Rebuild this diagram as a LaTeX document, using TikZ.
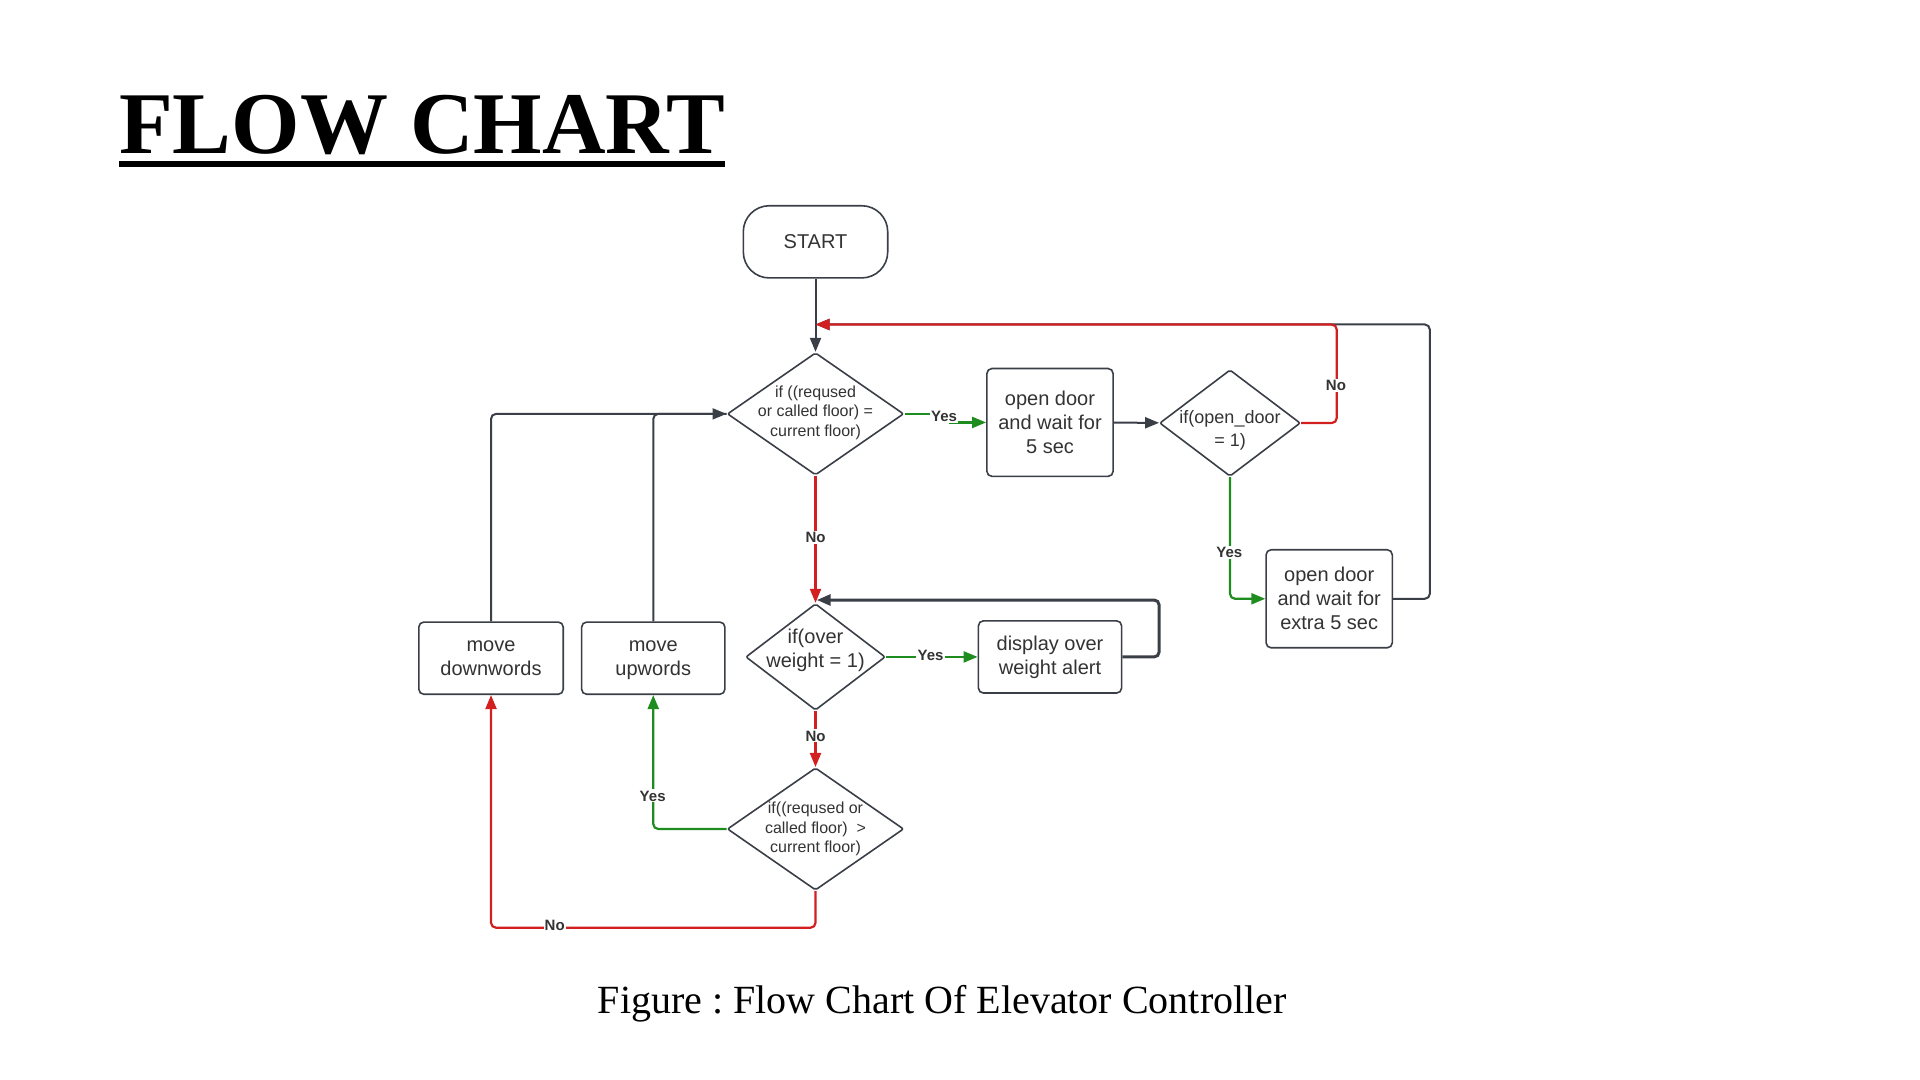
\documentclass[tikz,border=0pt]{standalone}
\usepackage{fontspec}
\setmainfont{Liberation Serif}
\newfontfamily\lsans{Liberation Sans}
\usetikzlibrary{shapes.geometric,arrows.meta,calc}
\definecolor{ln}{HTML}{3A3F47}
\definecolor{rd}{HTML}{D21F1F}
\definecolor{gr}{HTML}{1E8C1E}
\definecolor{tx}{HTML}{333333}
\frenchspacing
\begin{document}
\begin{tikzpicture}[x=0.6122pt,y=-0.6122pt,
 box/.style={draw=ln, line width=0.8pt, rounded corners=2.5pt, fill=white, font=\lsans\fontsize{10}{12}\selectfont, text=tx, align=center, inner sep=0pt},
 dia/.style={draw=ln, line width=0.8pt, diamond, inner sep=0pt, rounded corners=1pt, fill=white},
 dtext/.style={font=\lsans\fontsize{8}{9.8}\selectfont, text=tx, align=center, inner sep=0pt},
 lab/.style={font=\lsans\bfseries\fontsize{7.5}{9}\selectfont, text=tx, fill=white, inner sep=0.6pt},
 con/.style={line width=1pt, draw=ln, rounded corners=2.5pt},
 rcon/.style={con, draw=rd, line width=1.1pt},
 gcon/.style={con, draw=gr, line width=1.1pt},
 tip/.style={-{Triangle[length=7pt,width=5.5pt]}},
]
\useasboundingbox (0,0) rectangle (1568,882);

% title
\node[font=\bfseries\fontsize{44}{50}\selectfont, anchor=base west, inner sep=0pt] (title) at (97,125) {FLOW CHART};
\draw[line width=2.6pt] ($(title.base west)+(0,9)$) -- ($(title.base east)+(0,9)$);

% nodes
\node[box, rounded corners=13pt, minimum width=72.2pt, minimum height=36.1pt] (start) at (666,197.5) {START};
\node[dia, minimum width=88.2pt, minimum height=61.2pt] (d1) at (666,338) {};
\node[dtext] (t1) at (666,337) {if ((reqused\\or called floor) =\\current floor)};
\node[box, minimum width=63.1pt, minimum height=53.9pt] (b1) at (857.5,345) {open door\\and wait for\\5 sec};
\node[dia, minimum width=70.4pt, minimum height=53.3pt] (d2) at (1004.5,345.5) {};
\node[dtext, font=\lsans\fontsize{9}{11.5}\selectfont] (t2) at (1004.5,351.5) {if(open\_door\\= 1)};
\node[box, minimum width=63.1pt, minimum height=49pt] (b2) at (1085.5,489) {open door\\and wait for\\extra 5 sec};
\node[dia, minimum width=69.8pt, minimum height=53.3pt] (d3) at (666,536.5) {};
\node[dtext, font=\lsans\fontsize{10}{12.2}\selectfont] (t3) at (666,531) {if(over\\weight = 1)};
\node[box, minimum width=71.6pt, minimum height=36.1pt] (b3) at (857.5,536.5) {display over\\weight alert};
\node[box, minimum width=72.2pt, minimum height=36.1pt] (b4) at (401,537.5) {move\\downwords};
\node[box, minimum width=71.6pt, minimum height=36.1pt] (b5) at (533.5,537.5) {move\\\smash{upwords}};
\node[dia, minimum width=88.2pt, minimum height=61.2pt] (d4) at (666,677) {};
\node[dtext] (t4) at (d4) {if((reqused or\\called floor)~~>\\current floor)};

\coordinate (j1) at (666,265);
\coordinate (j2) at (667,490);

% connectors
\draw[con,tip] (start) -- (d1);
\draw[con,tip] (b2.east) -- ++(30,0) |- (j1);
\draw[rcon,tip] (d2.east) -- ++(29,0) |- (j1);
\draw[gcon,tip,rounded corners=0pt] (d1.east) -- ++(37,0) |- (b1.west);
\draw[con,tip] (b1) -- (d2);
\draw[gcon,tip] (d2.south) |- (b2.west);
\draw[rcon,tip] (d1.south) -- (d3.north);
\draw[con,line width=1.5pt,tip] (b3.east) -- ++(30,0) |- (j2);
\draw[gcon,tip] (d3) -- (b3);
\draw[rcon,tip] (d3) -- (d4);
\draw[gcon,tip] (d4.west) -| (b5.south);
\draw[rcon,tip] (d4.south) -- ++(0,30) -| (b4.south);
\draw[con,tip] (b4.north) |- (d1.west);
\draw[con] (b5.north) |- (d1.west);

% labels
\node[lab] (l1) at (771,340) {Yes};
\node[lab] (l2) at (1091,315) {No};
\node[lab] (l3) at (1004,451) {Yes};
\node[lab] (l4) at (666,439) {No};
\node[lab] (l5) at (760,535) {Yes};
\node[lab] (l6) at (666,601) {No};
\node[lab] (l7) at (533,650) {Yes};
\node[lab] (l8) at (453,756) {No};

% caption
\node[font=\fontsize{20}{24}\selectfont, anchor=base, inner sep=0pt] (cap) at (769.5,828) {Figure : Flow Chart Of Elevator Controller};
\end{tikzpicture}
\end{document}
